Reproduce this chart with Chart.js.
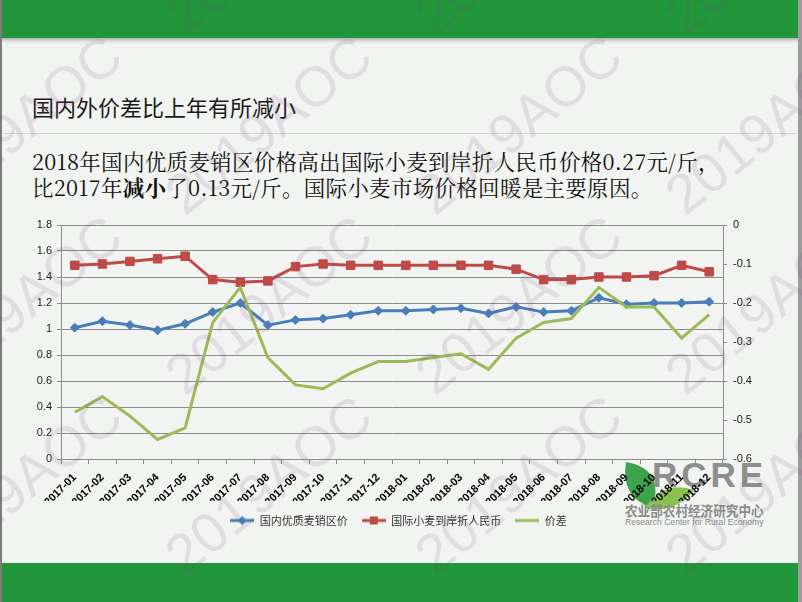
<!DOCTYPE html>
<html><head><meta charset="utf-8">
<script src="https://cdn.jsdelivr.net/npm/chart.js@4.4.0/dist/chart.umd.min.js"></script>
<style>
html,body{margin:0;padding:0;}
body{width:802px;height:602px;overflow:hidden;background:#f1f4f0;position:relative;font-family:"Noto Sans CJK SC",sans-serif;}
#topband{position:absolute;left:0;top:0;width:802px;height:38px;background:#21963a;box-shadow:0 2px 4px rgba(0,0,0,0.3);}
#botband{position:absolute;left:0;top:563px;width:802px;height:39px;background:#21963a;}
#frame{position:absolute;left:0;top:0;width:802px;height:602px;box-sizing:border-box;border-left:2px solid #7d7d7d;border-right:4px solid #9c9c9c;}
#title{position:absolute;left:32px;top:91px;font-size:22px;line-height:30px;color:#1b1b1b;white-space:nowrap;}
#sep{position:absolute;left:4px;top:133px;width:792px;height:1px;background:#cdd1cd;}
#body{position:absolute;left:32px;top:148px;font-size:21.5px;letter-spacing:0.3px;line-height:26px;color:#111;white-space:nowrap;font-family:"Noto Serif CJK SC","Noto Sans CJK SC",serif;}
#body b{font-weight:700;}
#logo{position:absolute;left:0;top:0;width:802px;height:602px;}
#rcre{position:absolute;left:652px;top:457px;font-family:"Liberation Sans",Arial,sans-serif;font-weight:700;font-size:35px;line-height:35px;letter-spacing:4px;color:#8e8e8e;}
#cn{position:absolute;left:625px;top:503px;font-size:14px;line-height:14px;color:#8c8c8c;font-weight:700;transform:scaleX(0.9);transform-origin:0 0;white-space:nowrap;}
#en{position:absolute;left:625px;top:517px;font-family:"Liberation Sans",Arial,sans-serif;font-size:8.6px;line-height:10px;color:#8c8c8c;white-space:nowrap;}
#chartbox{position:absolute;left:0;top:200px;width:802px;height:336px;}
#wm{position:absolute;left:0;top:0;width:802px;height:602px;pointer-events:none;}
</style></head>
<body>
<div id="topband"></div>
<div id="botband"></div>
<div id="frame"></div>
<div id="title">国内外价差比上年有所减小</div>
<div id="sep"></div>
<div id="body">2018年国内优质麦销区价格高出国际小麦到岸折人民币价格0.27元/斤，<br>比2017年<b>减小</b>了0.13元/斤。国际小麦市场价格回暖是主要原因。</div>
<div id="logo">
<svg width="802" height="602" style="position:absolute;left:0;top:0">
<path d="M626 462 Q664 468 653 508 Q620 498 626 462 Z" fill="#3fa34d"/>
<path d="M645 508 Q664 480 694 490 Q676 514 645 508 Z" fill="#8cc152"/>
</svg>
<div id="rcre">RCRE</div>
<div id="cn">农业部农村经济研究中心</div>
<div id="en">Research Center for Rural Economy</div>
</div>
<div id="chartbox"><canvas id="c" width="802" height="336"></canvas></div>
<svg id="wm" width="802" height="602"></svg>
<script>
const months = ['2017-01','2017-02','2017-03','2017-04','2017-05','2017-06','2017-07','2017-08','2017-09','2017-10','2017-11','2017-12',
'2018-01','2018-02','2018-03','2018-04','2018-05','2018-06','2018-07','2018-08','2018-09','2018-10','2018-11','2018-12'];
const domestic = [1.01,1.06,1.03,0.99,1.04,1.13,1.20,1.03,1.07,1.08,1.11,1.14,1.14,1.15,1.16,1.12,1.17,1.13,1.14,1.24,1.19,1.20,1.20,1.21];
const imported = [1.49,1.50,1.52,1.54,1.56,1.38,1.36,1.37,1.48,1.50,1.49,1.49,1.49,1.49,1.49,1.49,1.46,1.38,1.38,1.40,1.40,1.41,1.49,1.44];
const spread = [-0.48,-0.44,-0.49,-0.55,-0.52,-0.25,-0.16,-0.34,-0.41,-0.42,-0.38,-0.35,-0.35,-0.34,-0.33,-0.37,-0.29,-0.25,-0.24,-0.16,-0.21,-0.21,-0.29,-0.23];
const seriesNames = ['国内优质麦销区价','国际小麦到岸折人民币','价差'];
const leftTicks = ['0','0.2','0.4','0.6','0.8','1','1.2','1.4','1.6','1.8'];
const rightTicks = ['-0.6','-0.5','-0.4','-0.3','-0.2','-0.1','0'];
const watermark = '2019AOC';

const BLUE='#4a7ebb', RED='#be4b48', GREEN='#9bbb59', GRID='#8c8c8c';

// watermark
(function(){
  const svg=document.getElementById('wm');
  const ns='http://www.w3.org/2000/svg';
  [37,217,397,577].forEach(y=>{
    [-65,185,435,685].forEach(x=>{
      const t=document.createElementNS(ns,'text');
      t.setAttribute('x',x);t.setAttribute('y',y);
      t.setAttribute('transform','rotate(-39 '+x+' '+y+')');
      t.setAttribute('font-family','Liberation Sans, Arial, sans-serif');
      t.setAttribute('font-size','56');
      t.setAttribute('fill','rgba(120,60,130,0.13)');
      t.textContent=watermark;
      svg.appendChild(t);
    });
  });
})();

function legendIcon(color, kind){
  const cv=document.createElement('canvas');
  cv.width=24; cv.height=12;
  const g=cv.getContext('2d');
  g.strokeStyle=color; g.lineWidth=3;
  g.beginPath(); g.moveTo(0,6); g.lineTo(24,6); g.stroke();
  g.fillStyle=color;
  if(kind==='diamond'){g.beginPath();g.moveTo(12,1.5);g.lineTo(16.5,6);g.lineTo(12,10.5);g.lineTo(7.5,6);g.closePath();g.fill();}
  if(kind==='square'){g.fillRect(8,2,8,8);}
  return cv;
}
const icons=[legendIcon(BLUE,'diamond'),legendIcon(RED,'square'),legendIcon(GREEN,'line')];

const tickFont={family:'"Liberation Sans", Arial, sans-serif',size:11};
new Chart(document.getElementById('c'),{
  type:'line',
  data:{labels:months,datasets:[
    {label:seriesNames[0],data:domestic,yAxisID:'y',borderColor:BLUE,backgroundColor:BLUE,borderWidth:3,
     pointStyle:'rectRot',pointRadius:4.5,pointBackgroundColor:BLUE,pointBorderColor:BLUE,pointBorderWidth:1,tension:0,order:3},
    {label:seriesNames[1],data:imported,yAxisID:'y',borderColor:RED,backgroundColor:RED,borderWidth:3,
     pointStyle:'rect',pointRadius:6,pointBackgroundColor:RED,pointBorderColor:RED,pointBorderWidth:1,tension:0,order:2},
    {label:seriesNames[2],data:spread,yAxisID:'y1',borderColor:GREEN,backgroundColor:GREEN,borderWidth:3,
     pointRadius:0,tension:0,order:1}
  ]},
  options:{
    responsive:false,animation:false,devicePixelRatio:1,
    layout:{padding:{left:0,right:5,top:25,bottom:0}},
    plugins:{
      tooltip:{enabled:false},
      legend:{position:'bottom',labels:{
        usePointStyle:true,pointStyleWidth:24,padding:14,color:'#333',
        font:{family:'"Noto Sans CJK SC", sans-serif',size:11},
        generateLabels:(chart)=>chart.data.datasets.map((ds,i)=>({
          text:ds.label,pointStyle:icons[i],fillStyle:ds.borderColor,strokeStyle:ds.borderColor,
          lineWidth:0,hidden:false,datasetIndex:i,fontColor:'#333'}))
      }}
    },
    scales:{
      x:{offset:true,
         grid:{offset:true,drawOnChartArea:false,color:GRID,tickLength:5},
         border:{color:GRID},
         ticks:{autoSkip:false,minRotation:45,maxRotation:45,color:'#000',font:{family:'"Liberation Sans", Arial, sans-serif',size:11,weight:'bold'},padding:7},
         afterFit:(s)=>{s.height=42;}},
      y:{position:'left',min:0,max:1.8,
         grid:{color:GRID,tickLength:4},border:{color:GRID},
         ticks:{stepSize:0.2,color:'#222',font:tickFont,padding:5,callback:(v)=>leftTicks[Math.round(v/0.2)]},
         afterFit:(s)=>{s.width=61;}},
      y1:{position:'right',min:-0.6,max:0,
         grid:{drawOnChartArea:false,color:GRID,tickLength:4},border:{color:GRID},
         ticks:{stepSize:0.1,color:'#222',font:tickFont,padding:6,callback:(v)=>rightTicks[Math.round((v+0.6)/0.1)]},
         afterFit:(s)=>{s.width=74;}}
    }
  }
});
</script>
</body></html>
